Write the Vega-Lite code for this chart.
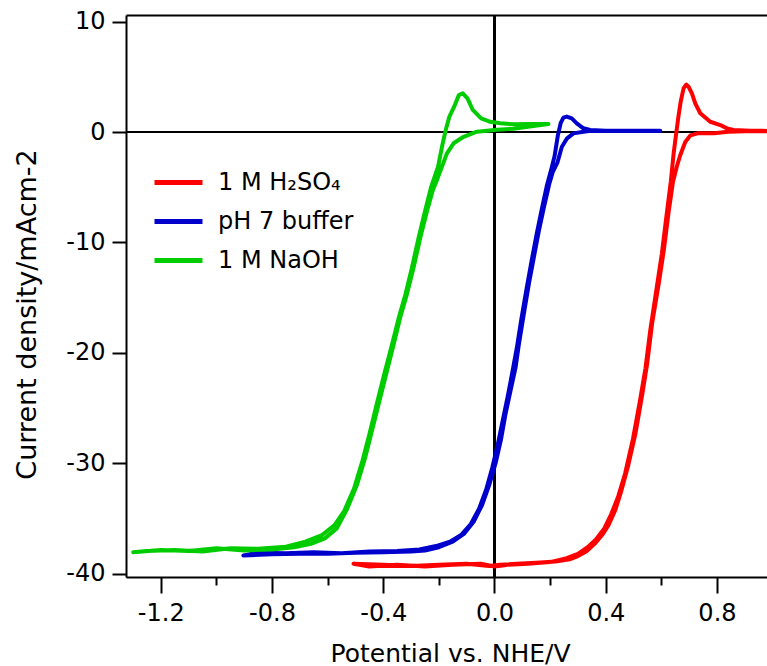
{
  "$schema": "https://vega.github.io/schema/vega-lite/v6.json",
  "width": 641,
  "height": 562,
  "autosize": {"type": "none"},
  "padding": {"left": 126, "top": 15, "right": 0, "bottom": 89},
  "background": "white",
  "config": {"view": {"stroke": null}},
  "data": {"values": [
    {"s":"1 M H₂SO₄","i":1,"x":1.00,"y":0.08},
    {"s":"1 M H₂SO₄","i":2,"x":0.90,"y":0.08},
    {"s":"1 M H₂SO₄","i":3,"x":0.84,"y":0.03},
    {"s":"1 M H₂SO₄","i":4,"x":0.79,"y":-0.10},
    {"s":"1 M H₂SO₄","i":5,"x":0.73,"y":-0.12},
    {"s":"1 M H₂SO₄","i":6,"x":0.705,"y":-0.3},
    {"s":"1 M H₂SO₄","i":7,"x":0.686,"y":-0.9},
    {"s":"1 M H₂SO₄","i":8,"x":0.668,"y":-2.1},
    {"s":"1 M H₂SO₄","i":9,"x":0.656,"y":-3.1},
    {"s":"1 M H₂SO₄","i":10,"x":0.642,"y":-4.5},
    {"s":"1 M H₂SO₄","i":11,"x":0.627,"y":-7.1},
    {"s":"1 M H₂SO₄","i":12,"x":0.609,"y":-10.7},
    {"s":"1 M H₂SO₄","i":13,"x":0.591,"y":-13.7},
    {"s":"1 M H₂SO₄","i":14,"x":0.567,"y":-17.3},
    {"s":"1 M H₂SO₄","i":15,"x":0.549,"y":-21.0},
    {"s":"1 M H₂SO₄","i":16,"x":0.530,"y":-24.0},
    {"s":"1 M H₂SO₄","i":17,"x":0.507,"y":-27.3},
    {"s":"1 M H₂SO₄","i":18,"x":0.480,"y":-30.3},
    {"s":"1 M H₂SO₄","i":19,"x":0.455,"y":-32.6},
    {"s":"1 M H₂SO₄","i":20,"x":0.435,"y":-34.2},
    {"s":"1 M H₂SO₄","i":21,"x":0.410,"y":-35.6},
    {"s":"1 M H₂SO₄","i":22,"x":0.390,"y":-36.4},
    {"s":"1 M H₂SO₄","i":23,"x":0.360,"y":-37.3},
    {"s":"1 M H₂SO₄","i":24,"x":0.330,"y":-38.0},
    {"s":"1 M H₂SO₄","i":25,"x":0.300,"y":-38.4},
    {"s":"1 M H₂SO₄","i":26,"x":0.270,"y":-38.7},
    {"s":"1 M H₂SO₄","i":27,"x":0.220,"y":-38.9},
    {"s":"1 M H₂SO₄","i":28,"x":0.150,"y":-39.0},
    {"s":"1 M H₂SO₄","i":29,"x":0.080,"y":-39.1},
    {"s":"1 M H₂SO₄","i":30,"x":0.020,"y":-39.2},
    {"s":"1 M H₂SO₄","i":31,"x":-0.020,"y":-39.3},
    {"s":"1 M H₂SO₄","i":32,"x":-0.100,"y":-39.1},
    {"s":"1 M H₂SO₄","i":33,"x":-0.200,"y":-39.2},
    {"s":"1 M H₂SO₄","i":34,"x":-0.300,"y":-39.3},
    {"s":"1 M H₂SO₄","i":35,"x":-0.400,"y":-39.2},
    {"s":"1 M H₂SO₄","i":36,"x":-0.507,"y":-39.1},
    {"s":"1 M H₂SO₄","i":37,"x":-0.450,"y":-39.35},
    {"s":"1 M H₂SO₄","i":38,"x":-0.350,"y":-39.2},
    {"s":"1 M H₂SO₄","i":39,"x":-0.250,"y":-39.35},
    {"s":"1 M H₂SO₄","i":40,"x":-0.150,"y":-39.2},
    {"s":"1 M H₂SO₄","i":41,"x":-0.050,"y":-39.1},
    {"s":"1 M H₂SO₄","i":42,"x":0.000,"y":-39.35},
    {"s":"1 M H₂SO₄","i":43,"x":0.050,"y":-39.2},
    {"s":"1 M H₂SO₄","i":44,"x":0.120,"y":-39.1},
    {"s":"1 M H₂SO₄","i":45,"x":0.200,"y":-38.95},
    {"s":"1 M H₂SO₄","i":46,"x":0.260,"y":-38.6},
    {"s":"1 M H₂SO₄","i":47,"x":0.300,"y":-38.2},
    {"s":"1 M H₂SO₄","i":48,"x":0.335,"y":-37.6},
    {"s":"1 M H₂SO₄","i":49,"x":0.365,"y":-36.9},
    {"s":"1 M H₂SO₄","i":50,"x":0.395,"y":-35.9},
    {"s":"1 M H₂SO₄","i":51,"x":0.420,"y":-34.6},
    {"s":"1 M H₂SO₄","i":52,"x":0.445,"y":-33.0},
    {"s":"1 M H₂SO₄","i":53,"x":0.470,"y":-30.9},
    {"s":"1 M H₂SO₄","i":54,"x":0.498,"y":-27.8},
    {"s":"1 M H₂SO₄","i":55,"x":0.522,"y":-24.5},
    {"s":"1 M H₂SO₄","i":56,"x":0.543,"y":-21.4},
    {"s":"1 M H₂SO₄","i":57,"x":0.560,"y":-18.0},
    {"s":"1 M H₂SO₄","i":58,"x":0.584,"y":-14.0},
    {"s":"1 M H₂SO₄","i":59,"x":0.602,"y":-11.0},
    {"s":"1 M H₂SO₄","i":60,"x":0.619,"y":-7.5},
    {"s":"1 M H₂SO₄","i":61,"x":0.634,"y":-4.5},
    {"s":"1 M H₂SO₄","i":62,"x":0.644,"y":-2.0},
    {"s":"1 M H₂SO₄","i":63,"x":0.652,"y":-0.4},
    {"s":"1 M H₂SO₄","i":64,"x":0.662,"y":1.5},
    {"s":"1 M H₂SO₄","i":65,"x":0.670,"y":2.8},
    {"s":"1 M H₂SO₄","i":66,"x":0.680,"y":3.96},
    {"s":"1 M H₂SO₄","i":67,"x":0.690,"y":4.3},
    {"s":"1 M H₂SO₄","i":68,"x":0.698,"y":4.1},
    {"s":"1 M H₂SO₄","i":69,"x":0.710,"y":3.5},
    {"s":"1 M H₂SO₄","i":70,"x":0.722,"y":2.6},
    {"s":"1 M H₂SO₄","i":71,"x":0.740,"y":1.7},
    {"s":"1 M H₂SO₄","i":72,"x":0.776,"y":0.93},
    {"s":"1 M H₂SO₄","i":73,"x":0.812,"y":0.63},
    {"s":"1 M H₂SO₄","i":74,"x":0.836,"y":0.33},
    {"s":"1 M H₂SO₄","i":75,"x":0.860,"y":0.18},
    {"s":"1 M H₂SO₄","i":76,"x":0.920,"y":0.12},
    {"s":"1 M H₂SO₄","i":77,"x":1.000,"y":0.10},

    {"s":"pH 7 buffer","i":1,"x":0.596,"y":0.12},
    {"s":"pH 7 buffer","i":2,"x":0.50,"y":0.12},
    {"s":"pH 7 buffer","i":3,"x":0.40,"y":0.12},
    {"s":"pH 7 buffer","i":4,"x":0.34,"y":0.10},
    {"s":"pH 7 buffer","i":5,"x":0.32,"y":0.03},
    {"s":"pH 7 buffer","i":6,"x":0.284,"y":-0.12},
    {"s":"pH 7 buffer","i":7,"x":0.26,"y":-0.6},
    {"s":"pH 7 buffer","i":8,"x":0.242,"y":-1.35},
    {"s":"pH 7 buffer","i":9,"x":0.226,"y":-2.8},
    {"s":"pH 7 buffer","i":10,"x":0.21,"y":-3.6},
    {"s":"pH 7 buffer","i":11,"x":0.197,"y":-4.7},
    {"s":"pH 7 buffer","i":12,"x":0.178,"y":-6.8},
    {"s":"pH 7 buffer","i":13,"x":0.16,"y":-8.9},
    {"s":"pH 7 buffer","i":14,"x":0.142,"y":-11.3},
    {"s":"pH 7 buffer","i":15,"x":0.124,"y":-13.7},
    {"s":"pH 7 buffer","i":16,"x":0.106,"y":-16.4},
    {"s":"pH 7 buffer","i":17,"x":0.088,"y":-19.2},
    {"s":"pH 7 buffer","i":18,"x":0.076,"y":-21.3},
    {"s":"pH 7 buffer","i":19,"x":0.058,"y":-23.4},
    {"s":"pH 7 buffer","i":20,"x":0.040,"y":-25.5},
    {"s":"pH 7 buffer","i":21,"x":0.023,"y":-27.9},
    {"s":"pH 7 buffer","i":22,"x":0.004,"y":-30.0},
    {"s":"pH 7 buffer","i":23,"x":-0.018,"y":-31.9},
    {"s":"pH 7 buffer","i":24,"x":-0.045,"y":-33.8},
    {"s":"pH 7 buffer","i":25,"x":-0.075,"y":-35.3},
    {"s":"pH 7 buffer","i":26,"x":-0.11,"y":-36.4},
    {"s":"pH 7 buffer","i":27,"x":-0.15,"y":-37.1},
    {"s":"pH 7 buffer","i":28,"x":-0.20,"y":-37.6},
    {"s":"pH 7 buffer","i":29,"x":-0.25,"y":-37.9},
    {"s":"pH 7 buffer","i":30,"x":-0.30,"y":-38.0},
    {"s":"pH 7 buffer","i":31,"x":-0.40,"y":-38.05},
    {"s":"pH 7 buffer","i":32,"x":-0.50,"y":-38.1},
    {"s":"pH 7 buffer","i":33,"x":-0.60,"y":-38.2},
    {"s":"pH 7 buffer","i":34,"x":-0.70,"y":-38.2},
    {"s":"pH 7 buffer","i":35,"x":-0.80,"y":-38.25},
    {"s":"pH 7 buffer","i":36,"x":-0.903,"y":-38.35},
    {"s":"pH 7 buffer","i":37,"x":-0.85,"y":-38.1},
    {"s":"pH 7 buffer","i":38,"x":-0.75,"y":-38.15},
    {"s":"pH 7 buffer","i":39,"x":-0.65,"y":-38.05},
    {"s":"pH 7 buffer","i":40,"x":-0.55,"y":-38.15},
    {"s":"pH 7 buffer","i":41,"x":-0.45,"y":-38.0},
    {"s":"pH 7 buffer","i":42,"x":-0.35,"y":-37.95},
    {"s":"pH 7 buffer","i":43,"x":-0.27,"y":-37.8},
    {"s":"pH 7 buffer","i":44,"x":-0.21,"y":-37.5},
    {"s":"pH 7 buffer","i":45,"x":-0.16,"y":-37.1},
    {"s":"pH 7 buffer","i":46,"x":-0.12,"y":-36.5},
    {"s":"pH 7 buffer","i":47,"x":-0.085,"y":-35.5},
    {"s":"pH 7 buffer","i":48,"x":-0.055,"y":-34.1},
    {"s":"pH 7 buffer","i":49,"x":-0.03,"y":-32.4},
    {"s":"pH 7 buffer","i":50,"x":-0.008,"y":-30.4},
    {"s":"pH 7 buffer","i":51,"x":0.012,"y":-28.3},
    {"s":"pH 7 buffer","i":52,"x":0.03,"y":-26.1},
    {"s":"pH 7 buffer","i":53,"x":0.048,"y":-23.9},
    {"s":"pH 7 buffer","i":54,"x":0.064,"y":-21.8},
    {"s":"pH 7 buffer","i":55,"x":0.08,"y":-19.6},
    {"s":"pH 7 buffer","i":56,"x":0.097,"y":-16.9},
    {"s":"pH 7 buffer","i":57,"x":0.116,"y":-14.1},
    {"s":"pH 7 buffer","i":58,"x":0.134,"y":-11.6},
    {"s":"pH 7 buffer","i":59,"x":0.152,"y":-9.2},
    {"s":"pH 7 buffer","i":60,"x":0.17,"y":-7.0},
    {"s":"pH 7 buffer","i":61,"x":0.188,"y":-4.9},
    {"s":"pH 7 buffer","i":62,"x":0.205,"y":-3.3},
    {"s":"pH 7 buffer","i":63,"x":0.216,"y":-2.2},
    {"s":"pH 7 buffer","i":64,"x":0.228,"y":-0.3},
    {"s":"pH 7 buffer","i":65,"x":0.238,"y":0.8},
    {"s":"pH 7 buffer","i":66,"x":0.248,"y":1.3},
    {"s":"pH 7 buffer","i":67,"x":0.26,"y":1.4},
    {"s":"pH 7 buffer","i":68,"x":0.278,"y":1.24},
    {"s":"pH 7 buffer","i":69,"x":0.296,"y":0.79},
    {"s":"pH 7 buffer","i":70,"x":0.32,"y":0.34},
    {"s":"pH 7 buffer","i":71,"x":0.344,"y":0.18},
    {"s":"pH 7 buffer","i":72,"x":0.40,"y":0.12},
    {"s":"pH 7 buffer","i":73,"x":0.50,"y":0.10},
    {"s":"pH 7 buffer","i":74,"x":0.596,"y":0.10},

    {"s":"1 M NaOH","i":1,"x":0.194,"y":0.72},
    {"s":"1 M NaOH","i":2,"x":0.14,"y":0.55},
    {"s":"1 M NaOH","i":3,"x":0.068,"y":0.3},
    {"s":"1 M NaOH","i":4,"x":0.009,"y":0.2},
    {"s":"1 M NaOH","i":5,"x":-0.063,"y":0.03},
    {"s":"1 M NaOH","i":6,"x":-0.111,"y":-0.43},
    {"s":"1 M NaOH","i":7,"x":-0.147,"y":-1.02},
    {"s":"1 M NaOH","i":8,"x":-0.171,"y":-1.93},
    {"s":"1 M NaOH","i":9,"x":-0.189,"y":-3.15},
    {"s":"1 M NaOH","i":10,"x":-0.207,"y":-4.35},
    {"s":"1 M NaOH","i":11,"x":-0.222,"y":-5.3},
    {"s":"1 M NaOH","i":12,"x":-0.243,"y":-7.2},
    {"s":"1 M NaOH","i":13,"x":-0.267,"y":-9.6},
    {"s":"1 M NaOH","i":14,"x":-0.291,"y":-12.3},
    {"s":"1 M NaOH","i":15,"x":-0.315,"y":-14.7},
    {"s":"1 M NaOH","i":16,"x":-0.339,"y":-16.8},
    {"s":"1 M NaOH","i":17,"x":-0.363,"y":-19.3},
    {"s":"1 M NaOH","i":18,"x":-0.387,"y":-21.7},
    {"s":"1 M NaOH","i":19,"x":-0.411,"y":-24.1},
    {"s":"1 M NaOH","i":20,"x":-0.441,"y":-27.1},
    {"s":"1 M NaOH","i":21,"x":-0.465,"y":-29.5},
    {"s":"1 M NaOH","i":22,"x":-0.495,"y":-32.0},
    {"s":"1 M NaOH","i":23,"x":-0.531,"y":-34.2},
    {"s":"1 M NaOH","i":24,"x":-0.567,"y":-35.9},
    {"s":"1 M NaOH","i":25,"x":-0.61,"y":-36.8},
    {"s":"1 M NaOH","i":26,"x":-0.66,"y":-37.3},
    {"s":"1 M NaOH","i":27,"x":-0.72,"y":-37.6},
    {"s":"1 M NaOH","i":28,"x":-0.80,"y":-37.8},
    {"s":"1 M NaOH","i":29,"x":-0.90,"y":-37.9},
    {"s":"1 M NaOH","i":30,"x":-1.00,"y":-37.7},
    {"s":"1 M NaOH","i":31,"x":-1.10,"y":-37.95},
    {"s":"1 M NaOH","i":32,"x":-1.20,"y":-37.85},
    {"s":"1 M NaOH","i":33,"x":-1.299,"y":-38.05},
    {"s":"1 M NaOH","i":34,"x":-1.25,"y":-37.95},
    {"s":"1 M NaOH","i":35,"x":-1.15,"y":-37.85},
    {"s":"1 M NaOH","i":36,"x":-1.05,"y":-38.0},
    {"s":"1 M NaOH","i":37,"x":-0.95,"y":-37.7},
    {"s":"1 M NaOH","i":38,"x":-0.85,"y":-37.75},
    {"s":"1 M NaOH","i":39,"x":-0.75,"y":-37.55},
    {"s":"1 M NaOH","i":40,"x":-0.68,"y":-37.1},
    {"s":"1 M NaOH","i":41,"x":-0.62,"y":-36.5},
    {"s":"1 M NaOH","i":42,"x":-0.575,"y":-35.6},
    {"s":"1 M NaOH","i":43,"x":-0.54,"y":-34.3},
    {"s":"1 M NaOH","i":44,"x":-0.505,"y":-32.3},
    {"s":"1 M NaOH","i":45,"x":-0.475,"y":-29.8},
    {"s":"1 M NaOH","i":46,"x":-0.45,"y":-27.4},
    {"s":"1 M NaOH","i":47,"x":-0.42,"y":-24.3},
    {"s":"1 M NaOH","i":48,"x":-0.395,"y":-21.8},
    {"s":"1 M NaOH","i":49,"x":-0.37,"y":-19.4},
    {"s":"1 M NaOH","i":50,"x":-0.345,"y":-16.9},
    {"s":"1 M NaOH","i":51,"x":-0.32,"y":-14.7},
    {"s":"1 M NaOH","i":52,"x":-0.297,"y":-12.3},
    {"s":"1 M NaOH","i":53,"x":-0.273,"y":-9.6},
    {"s":"1 M NaOH","i":54,"x":-0.25,"y":-7.2},
    {"s":"1 M NaOH","i":55,"x":-0.228,"y":-5.0},
    {"s":"1 M NaOH","i":56,"x":-0.203,"y":-3.15},
    {"s":"1 M NaOH","i":57,"x":-0.186,"y":-1.0},
    {"s":"1 M NaOH","i":58,"x":-0.175,"y":0.2},
    {"s":"1 M NaOH","i":59,"x":-0.162,"y":1.4},
    {"s":"1 M NaOH","i":60,"x":-0.145,"y":2.3},
    {"s":"1 M NaOH","i":61,"x":-0.128,"y":3.35},
    {"s":"1 M NaOH","i":62,"x":-0.114,"y":3.5},
    {"s":"1 M NaOH","i":63,"x":-0.097,"y":3.05},
    {"s":"1 M NaOH","i":64,"x":-0.078,"y":2.0},
    {"s":"1 M NaOH","i":65,"x":-0.048,"y":1.24},
    {"s":"1 M NaOH","i":66,"x":-0.015,"y":0.93},
    {"s":"1 M NaOH","i":67,"x":0.021,"y":0.79},
    {"s":"1 M NaOH","i":68,"x":0.068,"y":0.7},
    {"s":"1 M NaOH","i":69,"x":0.128,"y":0.72},
    {"s":"1 M NaOH","i":70,"x":0.194,"y":0.72}
  ]},
  "resolve": {"axis": {"x": "independent", "y": "independent"}},
  "layer": [
    {
      "mark": {"type": "rule", "color": "black", "strokeWidth": 2},
      "encoding": {
        "x": {"datum": 0, "type": "quantitative",
          "scale": {"domain": [-1.325, 0.98], "nice": false, "zero": false},
          "axis": {"orient": "bottom", "values": [-1.0, -0.6, -0.2, 0.2, 0.6], "labels": false, "domain": false, "grid": false, "title": null, "tickSize": 8, "tickWidth": 2, "tickColor": "black"}}
      }
    },
    {
      "mark": {"type": "rule", "color": "black", "strokeWidth": 2},
      "encoding": {
        "x": {"datum": -1.325, "type": "quantitative",
          "axis": {"orient": "top", "ticks": false, "labels": false, "domain": true, "domainWidth": 2, "domainColor": "black", "grid": false, "title": null}},
        "x2": {"datum": 0.98},
        "y": {"datum": 0, "type": "quantitative", "axis": null}
      }
    },
    {
      "mark": {"type": "line", "strokeWidth": 4, "clip": true, "strokeJoin": "round", "strokeCap": "round"},
      "encoding": {
        "x": {"field": "x", "type": "quantitative",
          "scale": {"domain": [-1.325, 0.98], "nice": false, "zero": false},
          "axis": {"orient": "bottom", "values": [-1.2, -0.8, -0.4, 0, 0.4, 0.8],
            "labelExpr": "replace(format(datum.value, '.1f'), '\u2212', '-')",
            "grid": false, "tickSize": 16, "tickWidth": 2, "tickColor": "black",
            "domainWidth": 2, "domainColor": "black",
            "labelFont": "DejaVu Sans", "labelFontSize": 24, "labelColor": "black", "labelPadding": 8,
            "labelFlush": false, "labelOverlap": false,
            "title": "Potential vs. NHE/V", "titleFont": "DejaVu Sans", "titleFontSize": 25, "titleFontWeight": "normal", "titleColor": "black",
            "titleX": 324, "titleY": 84, "titleBaseline": "alphabetic", "titleAlign": "center"}},
        "y": {"field": "y", "type": "quantitative",
          "scale": {"domain": [-40.3, 10.6], "nice": false, "zero": false},
          "axis": {"values": [-40, -30, -20, -10, 0, 10],
            "labelExpr": "replace(format(datum.value, 'd'), '\u2212', '-')",
            "grid": false, "tickSize": 14, "tickWidth": 2, "tickColor": "black",
            "domainWidth": 2, "domainColor": "black",
            "labelFont": "DejaVu Sans", "labelFontSize": 24, "labelColor": "black", "labelPadding": 7,
            "labelFlush": false, "labelOverlap": false,
            "title": "Current density/mAcm-2", "titleFont": "DejaVu Sans", "titleFontSize": 27, "titleFontWeight": "normal", "titleColor": "black",
            "titleX": -91, "titleY": 299, "titleAngle": 270, "titleAlign": "center", "titleBaseline": "alphabetic"}},
        "color": {"field": "s", "type": "nominal",
          "scale": {"domain": ["1 M H₂SO₄", "pH 7 buffer", "1 M NaOH"], "range": ["#ff0000", "#0000cc", "#00cc00"]},
          "legend": {"orient": "none", "legendX": 26, "legendY": 141, "title": null,
            "symbolType": "stroke", "symbolSize": 2304, "symbolStrokeWidth": 5,
            "labelFont": "DejaVu Sans", "labelFontSize": 24, "labelColor": "black", "labelOffset": 13, "rowPadding": -8, "padding": 0}},
        "detail": {"field": "s"},
        "order": {"field": "i", "type": "quantitative"}
      }
    }
  ]
}
